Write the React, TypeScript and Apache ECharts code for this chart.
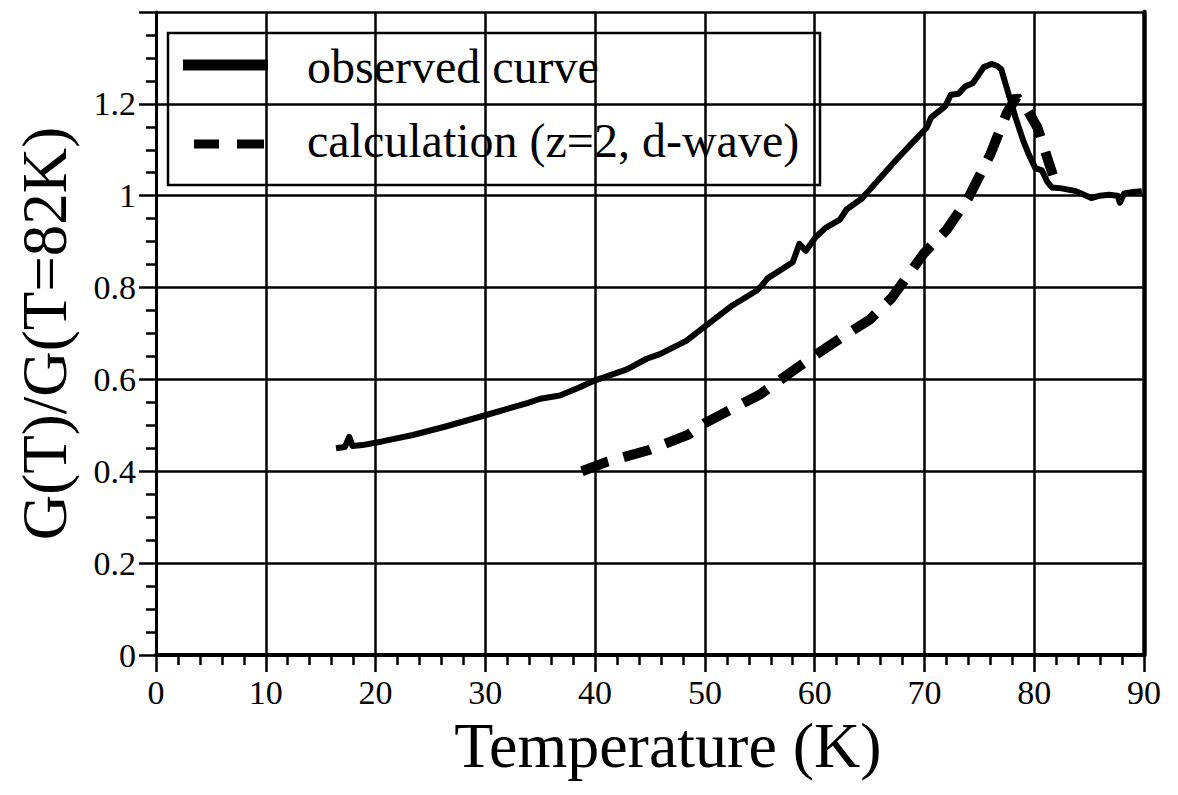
import React, { useEffect, useRef } from "react";
import * as echarts from "echarts";

const observedT = [16.4, 17.2, 17.6, 17.9, 18.8, 20.6, 23.4, 26.3, 30, 33.9, 35, 36.8, 38.5, 40, 42.9, 44.7, 45.9, 48.3, 50.1, 52.5, 54.7, 55.2, 55.7, 58, 58.6, 59.2, 60.1, 61, 62.3, 62.9, 64.3, 66.2, 67.5, 68.7, 70.2, 70.6, 71.9, 72.4, 73.1, 73.7, 74.4, 74.9, 75.4, 76.1, 76.6, 77.0, 77.8, 78.3, 79.0, 79.5, 80.1, 80.7, 81.2, 81.6, 82.5, 83.8, 85.2, 86.0, 86.8, 87.6, 87.8, 88.2, 89.0, 89.8];
const observedV = [0.45, 0.453, 0.475, 0.455, 0.457, 0.465, 0.479, 0.497, 0.522, 0.549, 0.558, 0.565, 0.582, 0.598, 0.622, 0.645, 0.655, 0.684, 0.717, 0.761, 0.793, 0.805, 0.82, 0.855, 0.895, 0.88, 0.91, 0.93, 0.948, 0.97, 0.994, 1.045, 1.08, 1.11, 1.148, 1.17, 1.195, 1.22, 1.222, 1.238, 1.245, 1.262, 1.28, 1.287, 1.283, 1.275, 1.21, 1.17, 1.12, 1.09, 1.06, 1.055, 1.03, 1.018, 1.016, 1.01, 0.995, 1.0, 1.002, 1.0, 0.985, 1.005, 1.008, 1.01];

const calcT = [38.8, 41, 45, 48.5, 50, 52, 55, 58.5, 60.5, 63, 65, 67, 70, 72, 74, 76, 77.5, 78.4, 79.3, 80.3, 81, 81.7];
const calcV = [0.40, 0.42, 0.447, 0.48, 0.505, 0.53, 0.567, 0.627, 0.66, 0.70, 0.73, 0.777, 0.876, 0.925, 0.995, 1.09, 1.18, 1.215, 1.19, 1.148, 1.096, 1.045];

const xTicks = [0, 10, 20, 30, 40, 50, 60, 70, 80, 90];
const yTicks = [0, 0.2, 0.4, 0.6, 0.8, 1, 1.2, 1.4];

const legendNames = ["observed curve", "calculation (z=2, d-wave)"];
const xTitle = "Temperature (K)";
const yTitle = "G(T)/G(T=82K)";

const FONT = "Liberation Serif";

export default function App() {
  const ref = useRef<HTMLDivElement>(null);
  useEffect(() => {
    if (!ref.current) return;
    const chart = echarts.init(ref.current, null, { renderer: "svg" });
    const observed = observedT.map((t, i) => [t, observedV[i]]);
    const calc = calcT.map((t, i) => [t, calcV[i]]);
    chart.setOption({
      animation: false,
      backgroundColor: "#fff",
      textStyle: { fontFamily: FONT },
      grid: { left: 156, top: 12, width: 988, height: 643, containLabel: false },
      xAxis: [
        {
          type: "value",
          min: xTicks[0],
          max: xTicks[xTicks.length - 1],
          interval: 10,
          name: xTitle,
          nameLocation: "middle",
          nameGap: 36,
          nameTextStyle: { color: "#000", fontFamily: FONT, fontSize: 64, padding: [0, 0, 0, 36] },
          axisLine: { show: true, onZero: false, lineStyle: { color: "#000", width: 4 } },
          axisTick: { show: true, length: 17, lineStyle: { color: "#000", width: 2.5 } },
          minorTick: { show: true, splitNumber: 5, length: 10, lineStyle: { color: "#000", width: 2.5 } },
          axisLabel: { color: "#000", fontFamily: FONT, fontSize: 34, margin: 20 },
          splitLine: { show: true, lineStyle: { color: "#000", width: 2.5 } },
        },
      ],
      yAxis: [
        {
          type: "value",
          min: yTicks[0],
          max: yTicks[yTicks.length - 1],
          interval: 0.2,
          name: yTitle,
          nameLocation: "middle",
          nameGap: 80,
          nameRotate: 90,
          nameTextStyle: { color: "#000", fontFamily: FONT, fontSize: 63 },
          axisLine: { show: true, onZero: false, lineStyle: { color: "#000", width: 3 } },
          axisTick: { show: true, length: 17, lineStyle: { color: "#000", width: 2.5 } },
          minorTick: { show: true, splitNumber: 4, length: 10, lineStyle: { color: "#000", width: 2.5 } },
          axisLabel: {
            color: "#000",
            fontFamily: FONT,
            fontSize: 34,
            margin: 20,
            formatter: (v: number) => (Math.abs(v - 1.4) < 1e-6 ? "" : String(Math.round(v * 10) / 10)),
          },
          splitLine: { show: true, lineStyle: { color: "#000", width: 2.5 } },
        },
        {
          type: "value",
          position: "right",
          min: yTicks[0],
          max: yTicks[yTicks.length - 1],
          interval: 0.2,
          axisLine: { show: true, onZero: false, lineStyle: { color: "#000", width: 4.5 } },
          axisTick: { show: false },
          axisLabel: { show: false },
          splitLine: { show: false },
        },
      ],
      series: [
        {
          name: legendNames[0],
          type: "line",
          data: observed,
          showSymbol: false,
          lineStyle: { color: "#000", width: 6, join: "round" },
          z: 3,
        },
        {
          name: legendNames[1],
          type: "line",
          data: calc,
          showSymbol: false,
          lineStyle: { color: "#000", width: 10, type: [28, 16], cap: "butt" },
          z: 2,
        },
      ],
      graphic: [
        {
          type: "group",
          z: 100,
          children: [
            {
              type: "rect",
              shape: { x: 168, y: 33, width: 652, height: 152 },
              style: { fill: "#fff", stroke: "#000", lineWidth: 2.5 },
            },
            {
              type: "line",
              shape: { x1: 183, y1: 65, x2: 268, y2: 65 },
              style: { stroke: "#000", lineWidth: 11 },
            },
            {
              type: "line",
              shape: { x1: 194, y1: 144, x2: 219, y2: 144 },
              style: { stroke: "#000", lineWidth: 9 },
            },
            {
              type: "line",
              shape: { x1: 237, y1: 144, x2: 264, y2: 144 },
              style: { stroke: "#000", lineWidth: 9 },
            },
            {
              type: "text",
              x: 307,
              y: 66,
              style: { text: legendNames[0], fontFamily: FONT, fontSize: 48, fill: "#000", verticalAlign: "middle", align: "left" },
            },
            {
              type: "text",
              x: 307,
              y: 140,
              style: { text: legendNames[1], fontFamily: FONT, fontSize: 48, fill: "#000", verticalAlign: "middle", align: "left" },
            },
          ],
        },
      ],
    });
    return () => chart.dispose();
  }, []);
  return <div ref={ref} style={{ position: "fixed", left: 0, top: 0, width: 1178, height: 795, background: "#fff" }} />;
}
